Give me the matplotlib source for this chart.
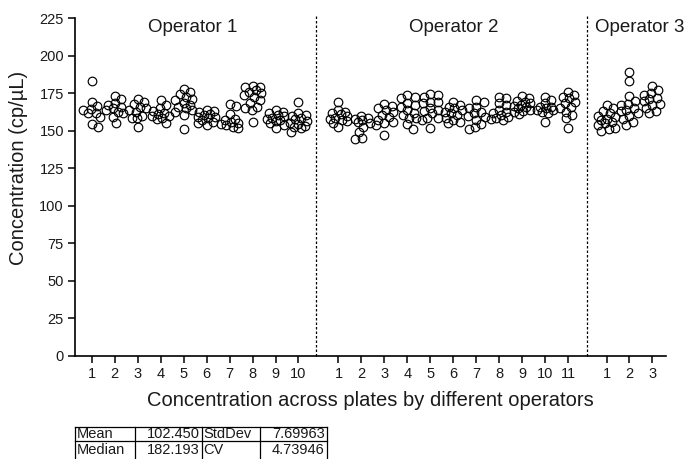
import numpy as np
import matplotlib
matplotlib.use("Agg")
import matplotlib.pyplot as plt

plt.rcParams['font.family'] = ['Liberation Sans', 'DejaVu Sans']
plt.rcParams['text.color'] = '#1a1a1a'

# --- data ---
op1 = [
    [183.2, 169.2, 166.5, 164.8, 163.9, 162.1, 161.6, 159.0, 154.5, 152.3],
    [173.0, 171.0, 168.3, 167.2, 166.0, 165.0, 163.5, 162.7, 161.6, 159.4, 155.4],
    [171.0, 169.0, 167.6, 166.0, 165.0, 163.9, 162.3, 160.0, 158.8, 158.3, 152.5],
    [170.5, 167.2, 165.4, 163.2, 161.6, 160.9, 160.0, 159.5, 158.8, 157.5, 155.0],
    [178.0, 176.0, 174.3, 172.8, 171.2, 170.5, 168.3, 167.2, 165.6, 165.4, 163.9, 162.8, 160.5, 151.0],
    [164.0, 163.2, 162.8, 161.0, 160.5, 159.4, 159.0, 158.3, 157.2, 156.1, 155.0, 154.0],
    [167.8, 166.5, 160.9, 158.0, 157.1, 156.0, 155.0, 154.5, 153.9, 152.5, 151.5],
    [180.0, 179.4, 179.0, 177.0, 176.1, 175.0, 173.9, 172.3, 170.5, 168.3, 166.1, 165.0, 163.9, 156.1],
    [163.9, 162.7, 161.6, 160.5, 159.5, 158.5, 157.8, 157.1, 156.5, 155.0, 153.9, 151.7],
    [169.0, 161.6, 160.5, 160.0, 158.3, 157.8, 156.5, 155.0, 154.3, 153.0, 152.7, 151.7, 148.8],
]
op2 = [
    [169.0, 163.9, 162.3, 161.6, 160.9, 159.5, 158.3, 157.8, 157.1, 156.4, 155.0, 152.3],
    [160.0, 158.3, 158.0, 157.0, 156.1, 155.0, 152.7, 149.0, 145.0, 144.5],
    [167.6, 166.7, 165.0, 163.9, 162.7, 160.5, 159.4, 157.1, 156.1, 155.0, 153.9, 147.2],
    [173.5, 172.7, 171.6, 168.3, 167.2, 166.0, 163.9, 161.6, 160.5, 158.8, 158.3, 154.3, 151.2],
    [174.5, 173.9, 172.7, 169.4, 169.0, 168.3, 165.0, 163.9, 163.0, 161.6, 158.8, 158.3, 157.1, 151.7],
    [169.4, 167.2, 166.0, 165.0, 163.9, 162.7, 161.6, 160.5, 158.8, 157.1, 155.6, 155.0],
    [170.5, 169.4, 166.0, 165.4, 162.7, 161.6, 160.0, 159.4, 157.1, 154.3, 152.7, 151.0],
    [172.7, 172.1, 168.3, 167.2, 163.9, 162.7, 161.6, 160.5, 159.4, 158.3, 158.0, 157.1],
    [173.0, 172.1, 170.0, 169.4, 168.3, 167.2, 166.5, 166.0, 165.0, 163.9, 163.2, 162.7, 160.9],
    [172.7, 170.5, 168.3, 166.0, 165.5, 165.0, 163.9, 163.5, 162.7, 161.6, 156.1],
    [176.0, 174.0, 172.7, 172.0, 169.4, 168.3, 166.0, 165.0, 162.7, 160.5, 158.3, 151.7],
]
op3 = [
    [167.0, 165.0, 163.0, 162.0, 160.0, 159.0, 158.0, 157.0, 156.0, 155.0, 154.0, 152.0, 151.0, 150.0],
    [189.0, 183.0, 173.0, 170.0, 168.0, 167.0, 165.0, 164.0, 163.0, 162.0, 160.0, 158.0, 156.0, 154.0],
    [180.0, 177.0, 175.0, 174.0, 172.0, 171.0, 170.0, 168.0, 167.0, 165.0, 163.0, 162.0],
]
operators = ["Operator 1", "Operator 2", "Operator 3"]
table_rows = [["Mean", "102.450", "StdDev", "7.69963"],
              ["Median", "182.193", "CV", "4.73946"]]


def swarm_offsets(vals, px_x=23.0, px_y=1.5, diam=6.5, max_off=0.36):
    # simple beeswarm: place each point as close to the centre as possible
    order = np.argsort(vals)[::-1]
    placed = []
    offs = np.zeros(len(vals))
    cands = [0.0]
    for k in range(1, 9):
        cands += [k * 0.045, -k * 0.045]
    for i in order:
        best, best_d = 0.0, -1
        for c in cands:
            if abs(c) > max_off:
                continue
            if not placed:
                d = 1e9
            else:
                d = min(np.hypot((c - o) * px_x, (vals[i] - v) * px_y) for o, v in placed)
            if d >= diam:
                best = c
                break
            if d > best_d:
                best, best_d = c, d
        offs[i] = best
        placed.append((best, vals[i]))
    return offs


fig = plt.figure(figsize=(6.9, 4.59), dpi=100)
W, H = 690, 459
ax = fig.add_axes([75 / W, 1 - 355.5 / H, (666 - 75) / W, (355.5 - 18.3) / H])

groups = [op1, op2, op3]
starts = [0.0, 10.74, 22.41]
seps = [9.77, 21.58]
ticks, labels = [], []
for g, s in zip(groups, starts):
    for j, col in enumerate(g):
        x0 = s + j
        vals = np.array(col)
        xs = x0 + swarm_offsets(vals)
        ax.plot(xs, vals, 'o', ms=6.2, mfc='none', mec='black', mew=0.85, clip_on=False)
        ticks.append(x0)
        labels.append(str(j + 1))

for sx in seps:
    ax.plot([sx, sx], [0, 227.5], color='black', lw=0.9, ls=(0, (2, 1.6)), clip_on=False)

centres = [starts[0] + 4.4, starts[1] + 5.0, 23.85]
for c, name in zip(centres, operators):
    ax.text(c, 219.0, name, ha='center', va='center', fontsize=13.5)

ax.set_xlim(-0.73, 25.0)
ax.set_ylim(0, 225)
ax.set_yticks(np.arange(0, 226, 25))
ax.set_xticks(ticks)
ax.set_xticklabels(labels)
for s in ['top', 'right']:
    ax.spines[s].set_visible(False)
for s in ['left', 'bottom']:
    ax.spines[s].set_linewidth(1.2)
ax.tick_params(axis='both', labelsize=10.5, width=1.1, length=5, direction='out', pad=3,
               labelcolor='#1a1a1a')

fig.text(370 / W, 1 - 401 / H, "Concentration across plates by different operators",
         ha='center', va='center', fontsize=14.5)
fig.text(19 / W, 1 - 168 / H, "Concentration (cp/µL)", rotation=90,
         ha='center', va='center', fontsize=14.5)

# stats table under the chart, drawn in pixel coordinates
tax = fig.add_axes([0, 0, 1, 1])
tax.set_xlim(0, W)
tax.set_ylim(H, 0)
tax.axis('off')
col_edges = [75, 135, 201.7, 260, 326.7]
row_edges = [427, 441.3, 470]
for xe in col_edges:
    tax.plot([xe, xe], [row_edges[0], row_edges[-1]], color='black', lw=0.9)
for ye in row_edges[:2]:
    tax.plot([col_edges[0], col_edges[-1]], [ye, ye], color='black', lw=0.9)
text_y = [434.5, 450.5]
for r, row in enumerate(table_rows):
    for c, txt in enumerate(row):
        if c % 2 == 0:
            tax.text(col_edges[c] + 2, text_y[r], txt, ha='left', va='center', fontsize=10.5)
        else:
            tax.text(col_edges[c + 1] - 2, text_y[r], txt, ha='right', va='center', fontsize=10.5)

fig.savefig("out.png", dpi=100)
